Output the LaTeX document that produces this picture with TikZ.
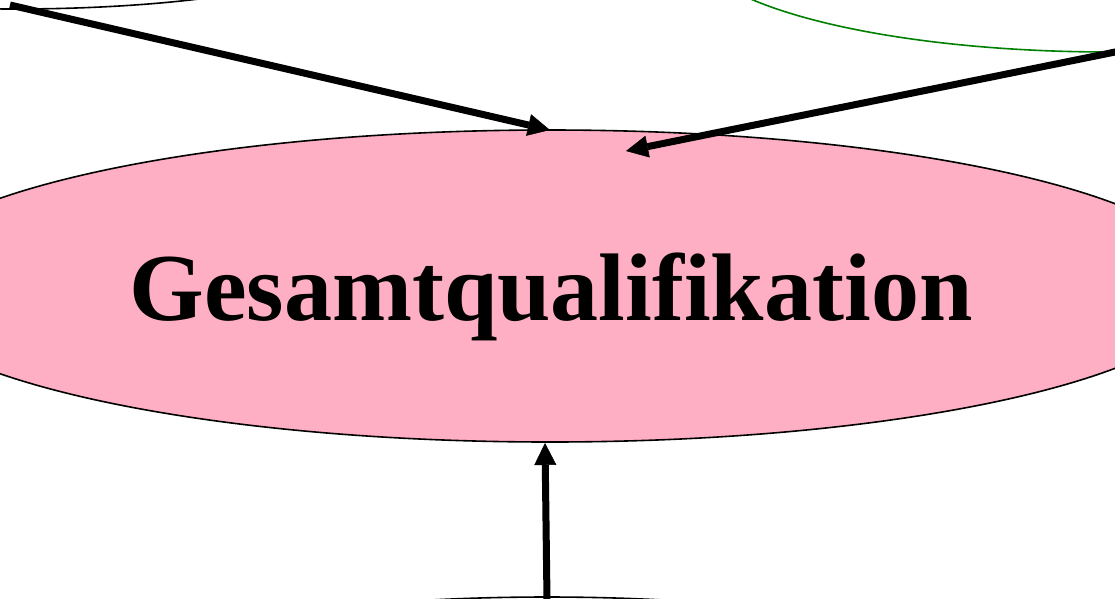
\documentclass[tikz,border=0pt]{standalone}
\usepackage{fontspec}
\setmainfont{Liberation Serif}
\usetikzlibrary{shapes.geometric,arrows.meta}
\definecolor{nodepink}{RGB}{255,175,195}
\definecolor{edgegreen}{RGB}{0,128,0}
\tikzset{
  ell/.style={ellipse, draw=black, line width=1.6pt, inner sep=0pt},
  conn/.style={line width=7pt, draw=black,
    -{Triangle[length=22pt,width=22pt,line width=0.5pt]}},
}
\begin{document}
\begin{tikzpicture}[x=1pt,y=-1pt]
\useasboundingbox (0,0) rectangle (1115,598);
\fill[white] (0,0) rectangle (1115,598);
% nodes
\node[ell, minimum width=660pt, minimum height=118pt] (tl) at (15,-50) {};
\node[ell, draw=edgegreen, minimum width=840pt, minimum height=220pt] (tr) at (1110,-58) {};
\node[ell, fill=nodepink, minimum width=1330pt, minimum height=312pt] (main) at (550,286) {};
\node[ell, minimum width=800pt, minimum height=140pt] (bot) at (547,667) {};
\node[anchor=base, inner sep=0pt, font=\fontsize{96}{100}\selectfont\bfseries] (lbl) at (551,320) {Gesamtqualifikation};
% edge end points
\coordinate (s1) at (10,5);
\coordinate (t1) at (550,130);
\coordinate (s2) at (1135,48);
\coordinate (t2) at (626,151);
\coordinate (s3) at (547,600);
\coordinate (t3) at (545,443);
% connectors
\draw[conn] (s1) -- (t1);
\draw[conn] (s2) -- (t2);
\draw[conn] (s3) -- (t3);
\end{tikzpicture}
\end{document}
